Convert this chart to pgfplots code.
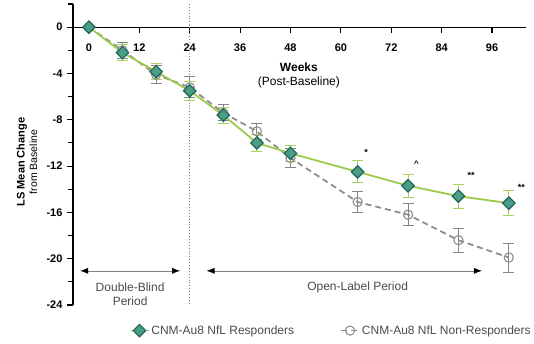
\documentclass[border=0pt]{standalone}
\usepackage{fontspec}
\setmainfont{Liberation Sans}
\usepackage{pgfplots}
\pgfplotsset{compat=1.18}
\usetikzlibrary{arrows.meta}

\definecolor{rline}{HTML}{9CCB4E}
\definecolor{rerr}{HTML}{A9D15E}
\definecolor{rfill}{HTML}{4A9E86}
\definecolor{rdraw}{HTML}{1F6559}
\definecolor{nline}{HTML}{8E8E8E}
\definecolor{nfill}{HTML}{F2F2F2}
\definecolor{nerr}{HTML}{858585}
\definecolor{txtgray}{HTML}{4A4A4A}

\pgfplotstableread{
x y e
0 0 0
8 -2.2 0.7
16 -3.85 0.7
24 -5.5 0.8
32 -7.6 0.7
40 -10.0 0.7
48 -10.9 0.7
64 -12.5 0.95
76 -13.7 1.0
88 -14.6 1.05
100 -15.2 1.1
}\responders

\pgfplotstableread{
x y e
0 0 0
8 -2.0 0.7
16 -4.1 0.8
24 -5.2 0.9
32 -7.4 0.7
40 -9.0 0.7
48 -11.3 0.8
64 -15.1 0.9
76 -16.2 0.95
88 -18.4 1.05
100 -19.9 1.25
}\nonresponders

\begin{document}
\begin{tikzpicture}
\path[use as bounding box] (0,0) rectangle (534pt,343pt);
\begin{axis}[
  at={(73pt,38pt)}, anchor=south west,
  scale only axis, width=452.6pt, height=301pt,
  xmin=-3.8, xmax=104, ymin=-24, ymax=2,
  axis x line=middle, axis y line=left,
  hide obscured x ticks=false, hide obscured y ticks=false,
  axis line style={-, line width=1.3pt, black},
  xtick={0,12,...,96}, ytick={0,-4,...,-24},
  minor ytick={2,-2,-6,-10,-14,-18,-22},
  tick align=outside,
  major tick length=6pt, minor tick length=5pt,
  tick style={line width=1.1pt, black},
  /pgf/number format/assume math mode=true,
  every tick label/.append style={font=\fontsize{11}{13}\selectfont\bfseries},
  x tick label style={yshift=-7pt},
  y tick label style={xshift=-1pt},
  ylabel={\textbf{LS Mean Change}\\\fontsize{10.5}{12}\selectfont from Baseline},
  ylabel style={at={(axis description cs:-0.1017,0.475)}, anchor=center, align=center, font=\fontsize{11}{12.5}\selectfont},
  legend columns=2,
  reverse legend,
  legend style={at={(axis description cs:0.118,-0.085)}, anchor=west, draw=none, fill=none,
    font=\fontsize{12}{14}\selectfont\color{txtgray},
    /tikz/every even column/.append style={column sep=44pt}},
  legend image code/.code={\draw[#1, mark repeat=2, mark phase=2] plot coordinates {(0pt,0pt)(9pt,0pt)(18pt,0pt)};},
  clip=false,
]
\draw[gray, dotted, line width=0.9pt] (axis cs:24,2) -- (axis cs:24,-24);

\addplot[nline, dashed, dash pattern=on 6pt off 4pt, line width=1.8pt,
  mark=o, mark size=4.6pt, mark options={solid, fill=nfill, draw=nline, line width=1.1pt},
  error bars/.cd, y dir=both, y explicit,
  error bar style={solid, nerr, line width=1pt},
  error mark options={rotate=90, mark size=5.5pt, nerr, line width=1pt, solid}]
  table[x=x, y=y, y error=e] {\nonresponders};
\addlegendentry{CNM-Au8 NfL Non-Responders}

\addplot[rline, line width=1.8pt,
  mark=square*, mark size=4.4pt, mark options={rotate=45, fill=rfill, draw=rdraw, line width=1.2pt},
  error bars/.cd, y dir=both, y explicit,
  error bar style={rerr, line width=1pt},
  error mark options={rotate=90, mark size=5.5pt, rerr, line width=1pt}]
  table[x=x, y=y, y error=e] {\responders};
\addlegendentry{CNM-Au8 NfL Responders}

\node[font=\fontsize{9}{10}\selectfont\bfseries] at (axis cs:66,-10.8) {*};
\node[font=\fontsize{8}{10}\selectfont\bfseries] at (axis cs:78,-11.8) {\textasciicircum};
\node[font=\fontsize{9}{10}\selectfont\bfseries] at (axis cs:91,-12.8) {**};
\node[font=\fontsize{9}{10}\selectfont\bfseries] at (axis cs:103,-13.8) {**};

\node[align=center, font=\fontsize{12}{14}\selectfont] at (axis cs:50,-4.15) {\textbf{Weeks}\\(Post-Baseline)};

\draw[{Latex[length=8pt,width=6pt,black]}-{Latex[length=8pt,width=6pt,black]}, gray, line width=0.6pt]
  (axis cs:-2.1,-21.05) -- (axis cs:21.7,-21.05);
\node[align=center, text=txtgray, font=\fontsize{12}{13.5}\selectfont] at (axis cs:9.8,-23.05) {Double-Blind\\Period};
\draw[{Latex[length=8pt,width=6pt,black]}-{Latex[length=8pt,width=6pt,black]}, gray, line width=0.6pt]
  (axis cs:28,-21.05) -- (axis cs:93.6,-21.05);
\node[text=txtgray, font=\fontsize{12}{14}\selectfont] at (axis cs:64,-22.45) {Open-Label Period};
\end{axis}
\end{tikzpicture}
\end{document}
